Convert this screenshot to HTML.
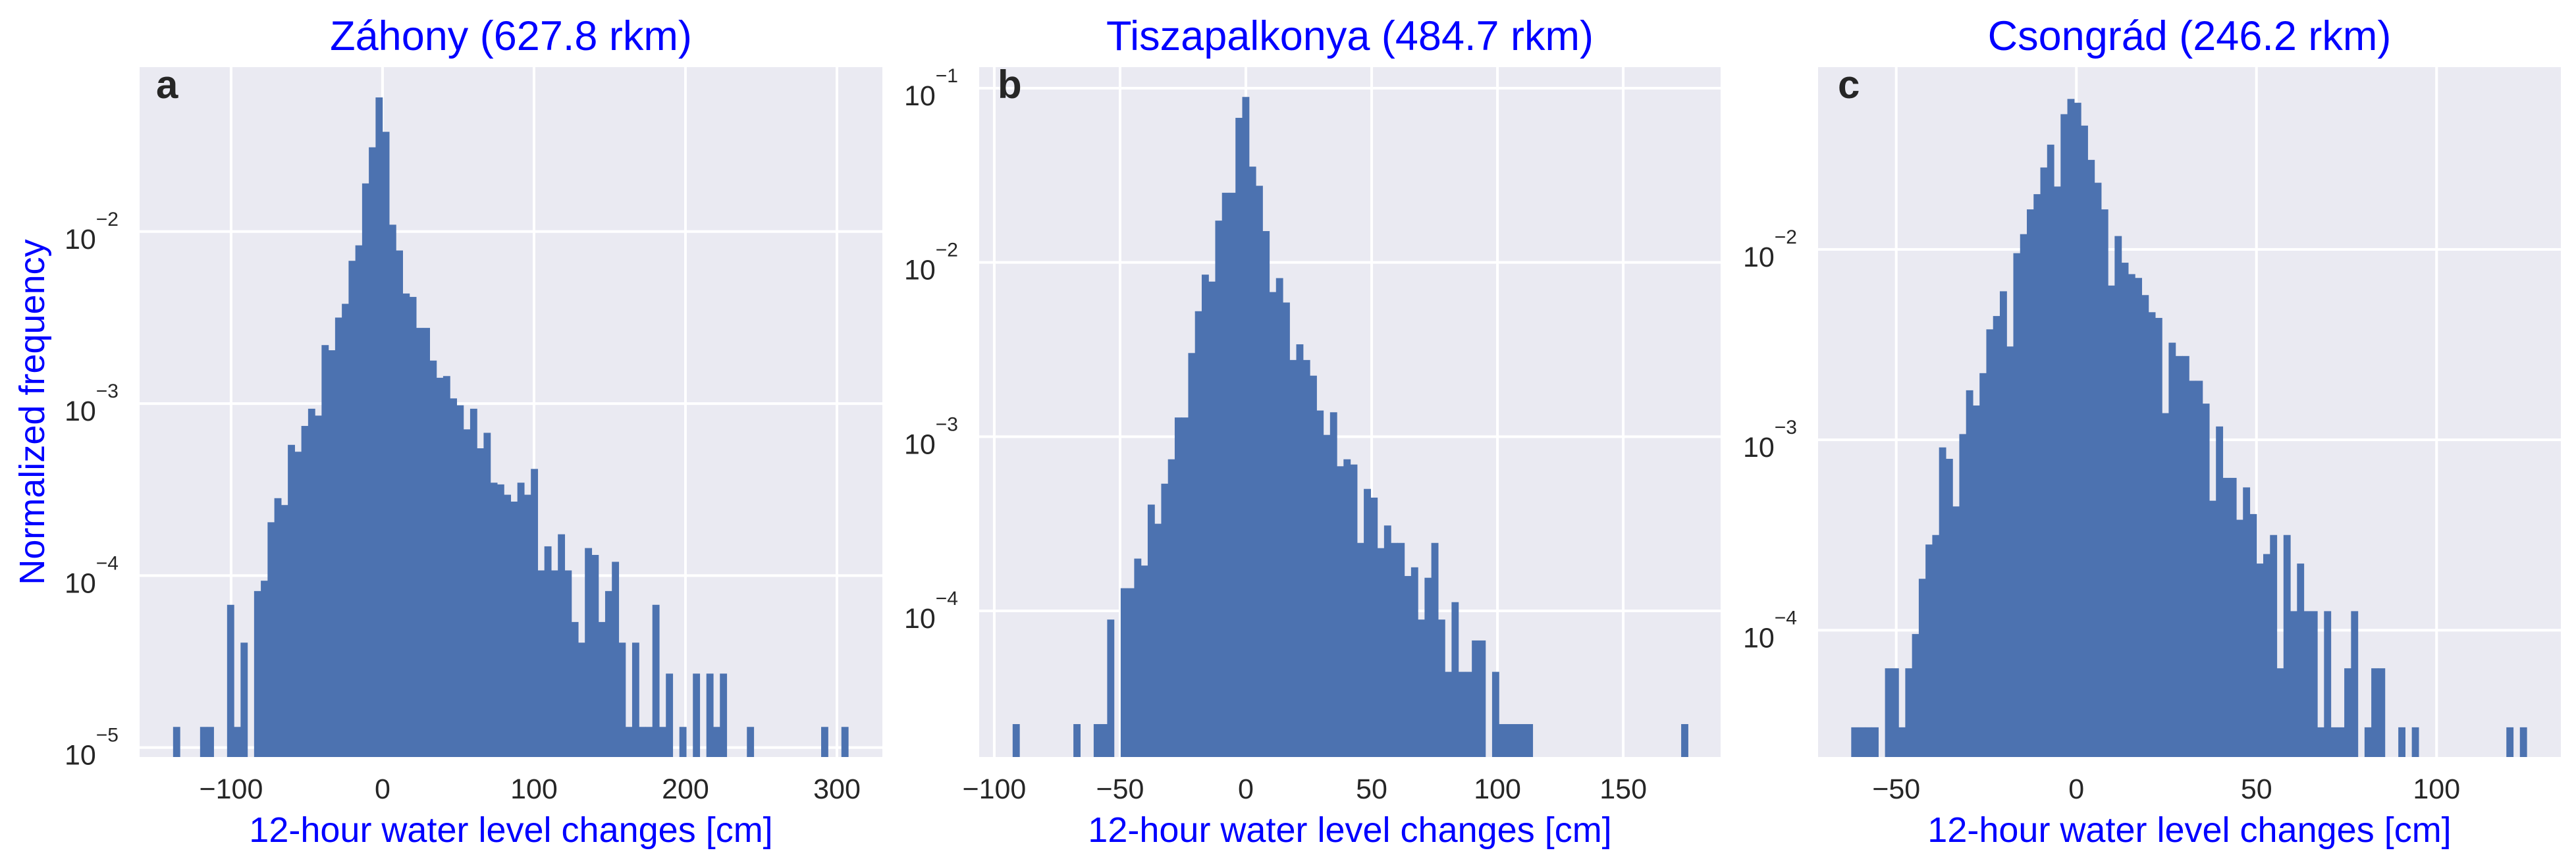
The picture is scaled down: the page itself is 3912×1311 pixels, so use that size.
<!DOCTYPE html>
<html><head><meta charset="utf-8">
<style>
html,body{margin:0;padding:0;background:#fff;}
svg{display:block;font-family:"Liberation Sans",Arial,sans-serif;}
</style></head>
<body>
<svg id="fig" width="3912" height="1311" viewBox="0 0 3912 1311" xmlns="http://www.w3.org/2000/svg"></svg>
<script>
// ---- data (log10 of normalized frequency per bin; null = empty bin) ----
const zahonyLog = [-4.88,null,null,null,-4.88,-4.88,null,null,-4.17,-4.88,-4.39,null,-4.09,-4.03,-3.69,-3.55,-3.59,-3.24,-3.28,-3.13,-3.03,-3.07,-2.66,-2.69,-2.50,-2.42,-2.17,-2.08,-1.72,-1.51,-1.22,-1.42,-1.96,-2.11,-2.36,-2.38,-2.56,-2.56,-2.75,-2.85,-2.84,-2.97,-3.01,-3.15,-3.03,-3.26,-3.17,-3.46,-3.47,-3.53,-3.57,-3.46,-3.53,-3.38,-3.97,-3.83,-3.97,-3.76,-3.97,-4.27,-4.39,-3.84,-3.88,-4.27,-4.09,-3.92,-4.39,-4.88,-4.39,-4.88,-4.88,-4.17,-4.88,-4.57,null,-4.88,null,-4.57,null,-4.57,-4.88,-4.57,null,null,null,-4.88,null,null,null,null,null,null,null,null,null,null,-4.88,null,null,-4.88];
const tiszaLog = [-4.65,null,null,null,null,null,null,null,null,-4.65,null,null,-4.65,-4.65,-4.05,null,-3.87,-3.87,-3.70,-3.74,-3.39,-3.50,-3.27,-3.13,-2.89,-2.89,-2.52,-2.28,-2.07,-2.11,-1.76,-1.60,-1.60,-1.17,-1.05,-1.45,-1.56,-1.82,-2.17,-2.09,-2.23,-2.56,-2.47,-2.56,-2.65,-2.85,-2.99,-2.86,-3.17,-3.13,-3.16,-3.61,-3.30,-3.35,-3.64,-3.51,-3.61,-3.61,-3.80,-3.75,-4.05,-3.81,-3.61,-4.05,-4.35,-3.95,-4.35,-4.35,-4.17,-4.17,null,-4.35,-4.65,-4.65,-4.65,-4.65,-4.65,null,null,null,null,null,null,null,null,null,null,null,null,null,null,null,null,null,null,null,null,null,null,-4.65];
const csongradLog = [-4.51,-4.51,-4.51,-4.51,null,-4.20,-4.20,-4.51,-4.20,-4.02,-3.73,-3.55,-3.50,-3.04,-3.10,-3.35,-2.97,-2.74,-2.82,-2.65,-2.42,-2.35,-2.22,-2.51,-2.02,-1.92,-1.79,-1.71,-1.57,-1.45,-1.67,-1.29,-1.21,-1.23,-1.35,-1.53,-1.65,-1.79,-2.19,-1.93,-2.07,-2.13,-2.15,-2.24,-2.33,-2.36,-2.86,-2.49,-2.56,-2.56,-2.69,-2.69,-2.81,-3.32,-2.93,-3.20,-3.20,-3.42,-3.25,-3.39,-3.65,-3.60,-3.50,-4.20,-3.50,-3.90,-3.65,-3.90,-3.90,-4.51,-3.90,-4.51,-4.51,-4.20,-3.90,null,-4.51,-4.20,-4.20,null,null,-4.51,null,-4.51,null,null,null,null,null,null,null,null,null,null,null,null,null,-4.51,null,-4.51];
const binStarts = [-138.3, -92.7, -62.5];
const binWidths = [4.457, 2.684, 1.875];
const titles = ["Záhony (627.8 rkm)", "Tiszapalkonya (484.7 rkm)", "Csongrád (246.2 rkm)"];
const letters = ["a", "b", "c"];
const xTicksA = [-100, 0, 100, 200, 300];
const xTicksB = [-100, -50, 0, 50, 100, 150];
const xTicksC = [-50, 0, 50, 100];
const yTicksA = [-2, -3, -4, -5];
const yTicksB = [-1, -2, -3, -4];
const yTicksC = [-2, -3, -4];

// ---- layout ----
const NS = "http://www.w3.org/2000/svg";
const svg = document.getElementById("fig");
const TOP = 102, BOT = 1150;
const panels = [
  {left:212, right:1340, xmin:-160.4, xmax:330.0, ltop:-1.044, lbot:-5.055, data:zahonyLog, xt:xTicksA, yt:yTicksA, letterDx:25},
  {left:1487, right:2613, xmin:-106.0, xmax:188.7, ltop:-0.879, lbot:-4.839, data:tiszaLog, xt:xTicksB, yt:yTicksB, letterDx:28},
  {left:2761, right:3889, xmin:-71.7, xmax:134.5, ltop:-1.043, lbot:-4.666, data:csongradLog, xt:xTicksC, yt:yTicksC, letterDx:30}
];
function mk(tag, attrs, parent){
  const e = document.createElementNS(NS, tag);
  for (const k in attrs) e.setAttribute(k, attrs[k]);
  (parent||svg).appendChild(e);
  return e;
}
const keys = ["zahony","tiszapalkonya","csongrad"];
panels.forEach((p, pi) => {
  const g = mk("g", {});
  
  
  const xs = v => p.left + (v - p.xmin) / (p.xmax - p.xmin) * (p.right - p.left);
  const ys = l => TOP + (p.ltop - l) / (p.ltop - p.lbot) * (BOT - TOP);
  const bg = mk("rect", {x:p.left, y:TOP, width:p.right-p.left, height:BOT-TOP, fill:"#eaeaf2"}, g);
  
  
  p.xt.forEach(t => {
    const l = mk("line", {x1:xs(t), x2:xs(t), y1:TOP, y2:BOT, stroke:"#fff", "stroke-width":4}, g);
    
    
  });
  p.yt.forEach(t => {
    const l = mk("line", {x1:p.left, x2:p.right, y1:ys(t), y2:ys(t), stroke:"#fff", "stroke-width":4}, g);
    
    
  });
  // bars
  p.data.forEach((lv, i) => {
    if (lv === null) return;
    const x0 = xs(binStarts[pi] + i * binWidths[pi]);
    const x1 = xs(binStarts[pi] + (i + 1) * binWidths[pi]);
    const yt = ys(lv);
    const r = mk("rect", {x:x0, y:yt, width:(x1-x0)+0.6, height:BOT-yt, fill:"#4c72b0"}, g);
    
    
  });
  // x tick labels
  p.xt.forEach(t => {
    const tx = mk("text", {x:xs(t), y:1213, "text-anchor":"middle", "font-size":43, fill:"#262626"}, g);
    tx.textContent = (t < 0 ? "\u2212" + Math.abs(t) : String(t));
    
    
  });
  // y tick labels
  p.yt.forEach(t => {
    const tx = mk("text", {x:p.left-32, y:ys(t)+26, "text-anchor":"end", "font-size":43, fill:"#262626"}, g);
    tx.textContent = "10";
    const sp = mk("tspan", {dy:-35, "font-size":30}, tx);
    sp.textContent = "\u2212" + Math.abs(t);
    
    
  });
  const ti = mk("text", {x:(p.left+p.right)/2, y:76, "text-anchor":"middle", "font-size":63, fill:"#0000ff"}, g);
  ti.textContent = titles[pi];
  
  
  const le = mk("text", {x:p.left+p.letterDx, y:149, "font-size":60, "font-weight":"bold", fill:"#262626"}, g);
  le.textContent = letters[pi];
  
  
  const xl = mk("text", {x:(p.left+p.right)/2, y:1279, "text-anchor":"middle", "font-size":54, fill:"#0000ff"}, g);
  xl.textContent = "12-hour water level changes [cm]";
  
  
});
const yl = mk("text", {x:0, y:0, "text-anchor":"middle", "font-size":54, fill:"#0000ff", transform:"translate(67,626) rotate(-90)"});
yl.textContent = "Normalized frequency";


</script>
</body></html>
